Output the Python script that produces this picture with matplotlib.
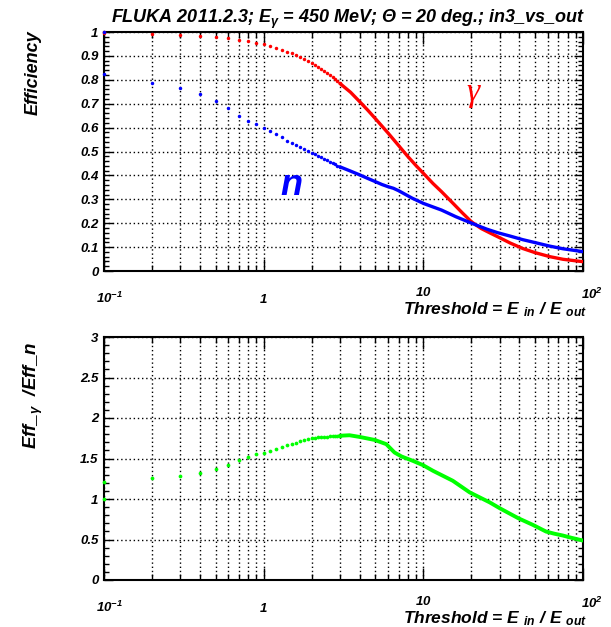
import matplotlib
matplotlib.use('Agg')
import matplotlib.pyplot as plt
from matplotlib.ticker import MultipleLocator, LogLocator, NullFormatter

plt.rcParams['font.family'] = ['Liberation Sans', 'DejaVu Sans']
plt.rcParams['font.weight'] = 'bold'
plt.rcParams['font.style'] = 'italic'
plt.rcParams['mathtext.fontset'] = 'custom'
plt.rcParams['mathtext.rm'] = 'Liberation Sans'
plt.rcParams['mathtext.it'] = 'Liberation Sans:italic'
plt.rcParams['mathtext.bf'] = 'Liberation Sans:bold:italic'

# 阈值 0.1 ~ 3.0 步长 0.1 的离散点（第一个阈值有两个点）
thr_pts = [0.1, 0.1, 0.2, 0.3, 0.4, 0.5, 0.6, 0.7, 0.8, 0.9, 1.0,
           1.1, 1.2, 1.3, 1.4, 1.5, 1.6, 1.7, 1.8, 1.9, 2.0,
           2.1, 2.2, 2.3, 2.4, 2.5, 2.6, 2.7, 2.8, 2.9, 3.0]
eff_g_pts = [1.0, 0.997, 0.992, 0.987, 0.984, 0.978, 0.973, 0.967, 0.961, 0.955, 0.948,
             0.940, 0.932, 0.925, 0.918, 0.911, 0.903, 0.896, 0.889, 0.880, 0.872,
             0.863, 0.855, 0.846, 0.838, 0.829, 0.820, 0.811, 0.802, 0.794, 0.785]
eff_n_pts = [1.0, 0.824, 0.788, 0.764, 0.741, 0.711, 0.681, 0.650, 0.629, 0.614, 0.600,
             0.586, 0.572, 0.559, 0.546, 0.535, 0.526, 0.518, 0.510, 0.502, 0.495,
             0.489, 0.482, 0.476, 0.470, 0.464, 0.458, 0.452, 0.447, 0.441, 0.436]
ratio_pts = [1.0, 1.205, 1.258, 1.287, 1.324, 1.369, 1.422, 1.476, 1.521, 1.550, 1.570,
             1.594, 1.623, 1.643, 1.664, 1.680, 1.697, 1.717, 1.734, 1.746, 1.750,
             1.755, 1.760, 1.764, 1.767, 1.770, 1.773, 1.776, 1.778, 1.780, 1.781]

# 阈值 > 3 以后点很密，连成粗线
thr_g = [3.0, 3.5, 4.0, 4.5, 5.0, 6.0, 7.0, 8.0, 9.0, 10.0, 11.5, 13.0, 15.3, 17.5, 20.0,
         23.0, 26.0, 29.3, 35.0, 42.0, 50.0, 62.0, 75.0, 100.0]
eff_g = [0.785, 0.748, 0.708, 0.672, 0.638, 0.578, 0.525, 0.479, 0.441, 0.409, 0.366, 0.332, 0.284, 0.244, 0.206,
         0.178, 0.160, 0.143, 0.117, 0.094, 0.077, 0.060, 0.049, 0.039]
thr_n = [3.0, 3.5, 4.0, 4.5, 5.0, 5.5, 6.0, 6.5, 7.0, 7.5, 8.5, 10.0, 11.5, 13.0, 16.0, 21.5,
         25.0, 29.3, 35.0, 42.0, 50.0, 62.0, 75.0, 100.0]
eff_n = [0.436, 0.418, 0.402, 0.387, 0.374, 0.362, 0.353, 0.346, 0.336, 0.325, 0.305, 0.283, 0.268, 0.255, 0.227, 0.192,
         0.175, 0.160, 0.146, 0.131, 0.119, 0.104, 0.093, 0.081]
thr_r = [3.0, 3.45, 4.0, 4.96, 5.86, 6.6, 7.3, 8.6, 9.95, 11.5, 15.3, 19.5, 26.0, 30.1, 39.3, 48.6,
         58.7, 66.0, 74.8, 85.0, 100.0]
ratio = [1.781, 1.787, 1.766, 1.729, 1.677, 1.574, 1.525, 1.471, 1.418, 1.348, 1.225, 1.082, 0.959, 0.886, 0.763, 0.680,
         0.598, 0.572, 0.549, 0.520, 0.487]

W, H = 611, 627
fig = plt.figure(figsize=(W / 100, H / 100), dpi=100)
ax1 = fig.add_axes([104 / W, 1 - 271 / H, 479 / W, 239 / H])
ax2 = fig.add_axes([104 / W, 1 - 580 / H, 479 / W, 243 / H])


def style_axis(ax, ymax, ymajor, yminor, ylabels):
    ax.set_xscale('log')
    ax.set_xlim(0.1, 100)
    ax.set_ylim(0, ymax)
    ax.xaxis.set_major_locator(LogLocator(base=10, numticks=10))
    ax.xaxis.set_minor_locator(LogLocator(base=10, subs=range(2, 10), numticks=20))
    ax.xaxis.set_major_formatter(NullFormatter())
    ax.xaxis.set_minor_formatter(NullFormatter())
    ax.set_yticks([i * ymajor for i in range(len(ylabels))])
    ax.set_yticklabels(ylabels, fontsize=9.5)
    ax.yaxis.set_minor_locator(MultipleLocator(yminor))
    ax.tick_params(which='both', direction='in', top=True, right=True, width=1)
    ax.tick_params(axis='x', which='major', length=8.5)
    ax.tick_params(axis='x', which='minor', length=4.3)
    ax.tick_params(axis='y', which='major', length=6.5, pad=4)
    ax.tick_params(axis='y', which='minor', length=3.5)
    for s in ax.spines.values():
        s.set_linewidth(1.5)
    ax.grid(which='major', color='black', linestyle=(0, (1, 2)), linewidth=1)
    ax.grid(which='minor', axis='x', color='black', linestyle=(0, (1, 2)), linewidth=1)
    ax.set_axisbelow(True)
    # ROOT 风格的对数坐标标签
    for xv, txt, dx, dy in [(0.1, r'$\mathbf{10^{-1}}$', 4, -23),
                            (1, r'$\mathbf{1}$', 0, -23),
                            (10, r'$\mathbf{10}$', 0, -18),
                            (100, r'$\mathbf{10^{2}}$', 6.5, -20)]:
        ax.annotate(txt, xy=(xv, 0), xycoords=('data', 'axes fraction'),
                    xytext=(dx, dy), textcoords='offset points',
                    ha='center', va='baseline', fontsize=9.5)
    ax.annotate(r'Threshold = E $_{\mathbf{in}}$ / E $_{\mathbf{out}}$', xy=(1, 0), xycoords='axes fraction',
                xytext=(3, -31), textcoords='offset points',
                ha='right', va='baseline', fontsize=12.5)


style_axis(ax1, 1, 0.1, 0.02, ['0', '0.1', '0.2', '0.3', '0.4', '0.5', '0.6', '0.7', '0.8', '0.9', '1'])
style_axis(ax2, 3, 0.5, 0.1, ['0', '0.5', '1', '1.5', '2', '2.5', '3'])

red, blue, green = '#ff0000', '#0000ff', '#00ff00'
ax1.plot(thr_g, eff_g, '-', color=red, lw=2.4, solid_capstyle='round', zorder=3)
ax1.plot(thr_n, eff_n, '-', color=blue, lw=2.4, solid_capstyle='round', zorder=3)
ax1.plot(thr_pts, eff_g_pts, 'o', color=red, ms=2.5, mew=0, zorder=3, clip_on=False)
ax1.plot(thr_pts, eff_n_pts, 'o', color=blue, ms=2.5, mew=0, zorder=3, clip_on=False)
ax2.plot(thr_r, ratio, '-', color=green, lw=2.8, solid_capstyle='round', zorder=3)
ax2.plot(thr_pts, ratio_pts, 'o', color=green, ms=2.7, mew=0, zorder=3, clip_on=False)

ax1.text(20.4, 0.745, '\u03b3', color=red, fontsize=24, family='Liberation Serif',
         style='italic', weight='normal', ha='center', va='center')
ax1.text(1.5, 0.318, 'n', color=blue, fontsize=26, ha='center', va='baseline')

fig.text(348 / W, 1 - 19 / H, r'FLUKA 2011.2.3; E$_{\gamma}$ = 450 MeV; $\Theta$ = 20 deg.; in3_vs_out',
         ha='center', va='center', fontsize=13)
fig.text(33 / W, 1 - 30 / H, 'Efficiency', rotation=90, ha='center', va='top', fontsize=13)
fig.text(33 / W, 1 - 342 / H, r'Eff_$_{\gamma}$  /Eff_n', rotation=90, ha='center', va='top', fontsize=13.5)

fig.savefig('out.png', dpi=100)
